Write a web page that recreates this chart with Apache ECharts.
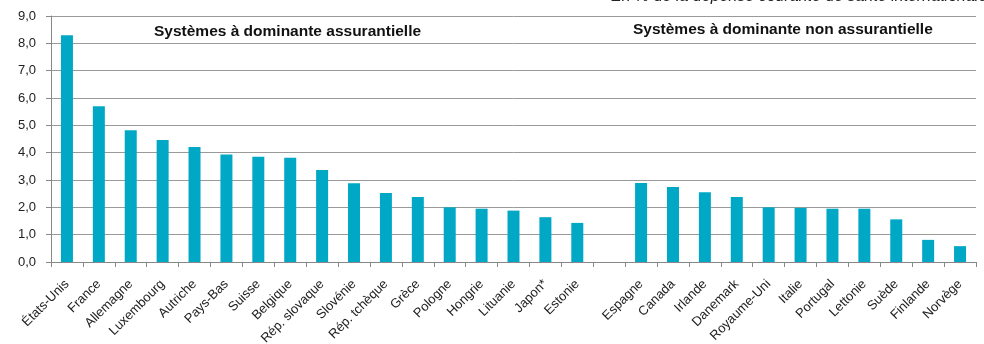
<!DOCTYPE html>
<html>
<head>
<meta charset="utf-8">
<script src="https://cdn.jsdelivr.net/npm/echarts@6/dist/echarts.min.js"></script>
<style>
html,body{margin:0;padding:0;background:#fff;}
#chart{width:984px;height:344px;}
</style>
</head>
<body>
<div id="chart"></div>
<script>
const categories = ['États-Unis','France','Allemagne','Luxembourg','Autriche','Pays-Bas','Suisse','Belgique','Rép. slovaque','Slovénie','Rép. tchèque','Grèce','Pologne','Hongrie','Lituanie','Japon*','Estonie','','Espagne','Canada','Irlande','Danemark','Royaume-Uni','Italie','Portugal','Lettonie','Suède','Finlande','Norvège'];
const values = [8.30,5.70,4.82,4.46,4.21,3.93,3.85,3.81,3.37,2.88,2.52,2.38,2.00,1.95,1.88,1.64,1.43,null,2.89,2.74,2.55,2.38,2.00,1.98,1.95,1.95,1.56,0.81,0.58];
const groupTitles = ['Systèmes à dominante assurantielle','Systèmes à dominante non assurantielle'];
const unitNote = 'En % de la dépense courante de santé internationale';

const chart = echarts.init(document.getElementById('chart'));
chart.setOption({
  animation:false,
  backgroundColor:'#fff',
  textStyle:{fontFamily:'Liberation Sans, Arial, sans-serif'},
  graphic:[
    {type:'text', left:611, top:-11, style:{text:unitNote, font:'italic 16px "Liberation Sans", Arial, sans-serif', fill:'#222'}},
    {type:'text', left:154, top:24, style:{text:groupTitles[0], font:'bold 15.5px "Liberation Sans", Arial, sans-serif', fill:'#111'}},
    {type:'text', left:633, top:22, style:{text:groupTitles[1], font:'bold 15.5px "Liberation Sans", Arial, sans-serif', fill:'#111'}}
  ],
  grid:{left:51, right:8, top:16, bottom:82, containLabel:false, outerBoundsMode:'none'},
  xAxis:{
    type:'category',
    data:categories,
    axisLine:{show:true, lineStyle:{color:'#888', width:1}},
    axisTick:{show:true, length:5, lineStyle:{color:'#888'}},
    axisLabel:{interval:0, rotate:45, margin:20, color:'#222', fontSize:13, fontFamily:'Liberation Sans, Arial, sans-serif'}
  },
  yAxis:{
    type:'value', min:0, max:9, interval:1,
    axisLine:{show:true, lineStyle:{color:'#888'}},
    axisTick:{show:true, length:5, lineStyle:{color:'#888'}},
    splitLine:{lineStyle:{color:'#9a9a9a', width:1}},
    axisLabel:{color:'#222', fontSize:13, margin:15, fontFamily:'Liberation Sans, Arial, sans-serif', formatter:v=>v.toFixed(1).replace('.',',')}
  },
  series:[{
    type:'bar',
    data:values,
    barWidth:12,
    itemStyle:{color:'#00A8C6'}
  }]
});
</script>
</body>
</html>
